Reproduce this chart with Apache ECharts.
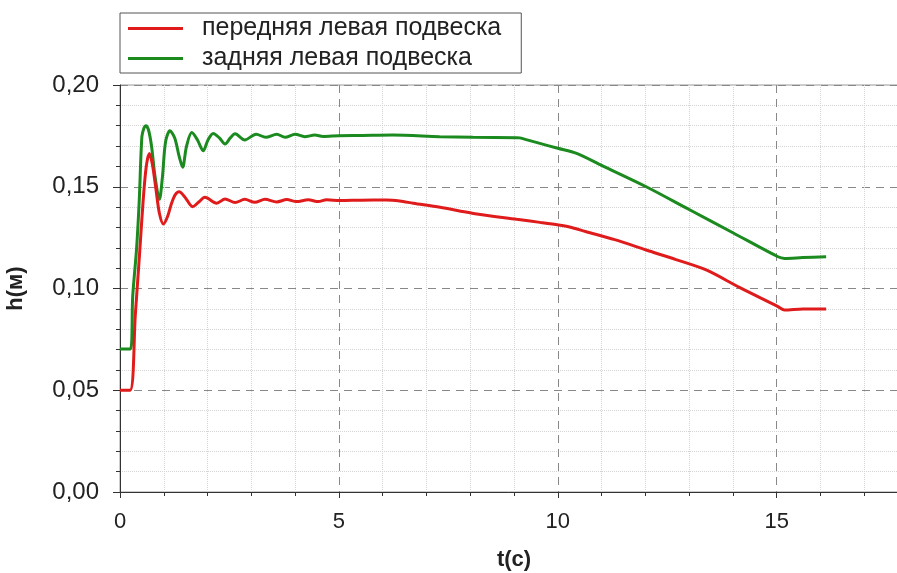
<!DOCTYPE html>
<html>
<head>
<meta charset="utf-8">
<script src="https://cdn.jsdelivr.net/npm/echarts@6/dist/echarts.min.js"></script>
<style>
html,body{margin:0;padding:0;background:#fff;}
#chart{width:897px;height:573px;}
</style>
</head>
<body>
<div id="chart"></div>
<script>
// front left suspension (red)
var tFront=[0,0.23,0.35,0.45,0.53,0.60,0.67,0.74,0.82,0.90,0.99,1.08,1.18,1.26,1.35,1.48,1.66,1.80,1.94,2.21,2.40,2.63,2.85,3.08,3.31,3.58,3.81,4.03,4.30,4.53,4.72,5.02,5.5,6.09,6.39,6.70,7.31,8.07,9.06,9.59,10.02,10.27,10.65,11.3,12.02,12.7,13.39,14.16,15.03,15.18,15.6,16.13];
var hFront=[0.05,0.05,0.087,0.118,0.1435,0.160,0.1664,0.161,0.149,0.137,0.1317,0.135,0.142,0.146,0.1475,0.145,0.1402,0.1425,0.1448,0.1419,0.144,0.1422,0.1438,0.1424,0.1438,0.1425,0.1437,0.1427,0.1436,0.1427,0.1436,0.1432,0.1434,0.1435,0.143,0.1419,0.1399,0.1369,0.134,0.1325,0.1312,0.1302,0.1279,0.124,0.1189,0.1142,0.1091,0.1004,0.0911,0.0894,0.0899,0.0899];
// rear left suspension (green)
var tRear=[0,0.24,0.29,0.38,0.44,0.50,0.55,0.59,0.65,0.72,0.80,0.90,0.97,1.04,1.14,1.25,1.35,1.43,1.52,1.64,1.77,1.90,2.01,2.13,2.27,2.40,2.52,2.63,2.85,3.11,3.33,3.58,3.77,4.0,4.22,4.45,4.64,5.0,5.5,6.23,7.3,8.06,9.06,9.13,9.59,10.0,10.43,11.0,12.02,13.0,14.0,15.03,15.18,15.6,16.13];
var hRear=[0.0703,0.0703,0.096,0.12,0.1435,0.1746,0.179,0.180,0.178,0.170,0.155,0.1438,0.155,0.172,0.1775,0.174,0.165,0.1596,0.170,0.1766,0.173,0.1677,0.173,0.1762,0.174,0.171,0.174,0.176,0.173,0.1758,0.1743,0.1758,0.1743,0.1758,0.1746,0.1754,0.1747,0.1751,0.1752,0.1754,0.1746,0.1743,0.1741,0.174,0.1713,0.1689,0.1664,0.1605,0.150,0.1388,0.1274,0.1156,0.1148,0.1152,0.1156];

var seriesNames=['передняя левая подвеска','задняя левая подвеска'];
var seriesColors=['#e01b1b','#1b8a1f'];

function pairs(t,h){
  var out=[];
  for(var i=0;i<t.length;i++){ out.push([t[i],h[i]]); }
  return out;
}

var font='"Liberation Sans", Arial, sans-serif';

var chart=echarts.init(document.getElementById('chart'),null,{renderer:'canvas'});
chart.setOption({
  animation:false,
  backgroundColor:'#fff',
  grid:{left:120,right:-11,top:85,bottom:81,show:true,borderColor:'#999',borderWidth:1,
        outerBoundsMode:'none',containLabel:false},
  legend:{
    orient:'vertical',left:120,top:13,
    icon:'rect',itemWidth:55,itemHeight:3,itemGap:5,
    padding:[3,20,2,8],
    borderColor:'#555',borderWidth:1,
    textStyle:{fontSize:25,lineHeight:25,color:'#222',fontFamily:font,padding:[0,0,0,14]},
    data:seriesNames
  },
  xAxis:{
    type:'value',min:0,max:18,interval:5,
    name:'t(с)',nameLocation:'middle',nameGap:57,
    nameTextStyle:{fontSize:22,fontWeight:'bold',color:'#222',fontFamily:font},
    axisLine:{lineStyle:{color:'#333',width:1}},
    axisTick:{show:true,length:6,lineStyle:{color:'#333'}},
    minorTick:{show:true,splitNumber:5,length:4,lineStyle:{color:'#333'}},
    axisLabel:{fontSize:22,color:'#222',margin:19,fontFamily:font,showMaxLabel:false},
    splitLine:{show:true,lineStyle:{color:'#888',type:[8,6],width:1}},
    minorSplitLine:{show:true,lineStyle:{color:'#d4d4d4',type:'dotted',width:1}}
  },
  yAxis:{
    type:'value',min:0,max:0.2,interval:0.05,
    name:'h(м)',nameLocation:'middle',nameGap:93,nameRotate:90,
    nameTextStyle:{fontSize:22,fontWeight:'bold',color:'#222',fontFamily:font},
    axisLine:{show:true,lineStyle:{color:'#333',width:1}},
    axisTick:{show:true,length:7,lineStyle:{color:'#333'}},
    minorTick:{show:true,splitNumber:5,length:4,lineStyle:{color:'#333'}},
    axisLabel:{fontSize:24,color:'#222',margin:21,fontFamily:font,
      formatter:function(v){return v.toFixed(2).replace('.',',');}},
    splitLine:{show:true,lineStyle:{color:'#888',type:[8,6],width:1}},
    minorSplitLine:{show:true,lineStyle:{color:'#d4d4d4',type:'dotted',width:1}}
  },
  series:[
    {name:seriesNames[0],type:'line',symbol:'none',smooth:0.3,
     color:seriesColors[0],lineStyle:{width:3,color:seriesColors[0]},
     data:pairs(tFront,hFront),z:3},
    {name:seriesNames[1],type:'line',symbol:'none',smooth:0.3,
     color:seriesColors[1],lineStyle:{width:3,color:seriesColors[1]},
     data:pairs(tRear,hRear),z:2}
  ]
});
</script>
</body>
</html>
